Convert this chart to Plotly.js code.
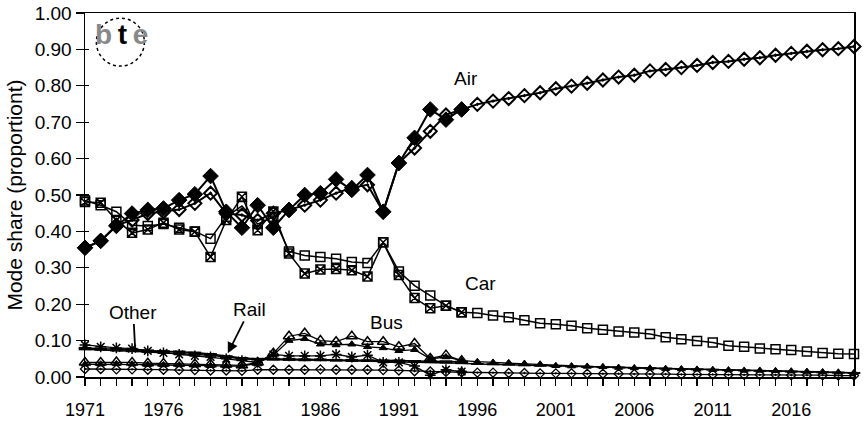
<!DOCTYPE html>
<html>
<head>
<meta charset="utf-8">
<script src="https://cdn.plot.ly/plotly-3.0.1.min.js"></script>
<style>
  body { margin: 0; background: #fff; }
  #chart { width: 864px; height: 421px; }
</style>
</head>
<body>
<div id="chart"></div>
<script>
// years: observed period and full projection period
var yearsActual = [1971, 1972, 1973, 1974, 1975, 1976, 1977, 1978, 1979, 1980,
    1981, 1982, 1983, 1984, 1985, 1986, 1987, 1988, 1989, 1990,
    1991, 1992, 1993, 1994, 1995];
var yearsFitted = [1971, 1972, 1973, 1974, 1975, 1976, 1977, 1978, 1979, 1980,
    1981, 1982, 1983, 1984, 1985, 1986, 1987, 1988, 1989, 1990,
    1991, 1992, 1993, 1994, 1995, 1996, 1997, 1998, 1999, 2000,
    2001, 2002, 2003, 2004, 2005, 2006, 2007, 2008, 2009, 2010,
    2011, 2012, 2013, 2014, 2015, 2016, 2017, 2018, 2019, 2020];

var airActual = [0.355, 0.374, 0.415, 0.449, 0.459, 0.463, 0.486, 0.502, 0.552, 0.454,
    0.410, 0.472, 0.410, 0.459, 0.500, 0.505, 0.543, 0.514, 0.555, 0.454,
    0.588, 0.657, 0.735, 0.707, 0.735];
var airFitted = [0.355, 0.374, 0.417, 0.431, 0.449, 0.454, 0.460, 0.477, 0.505, 0.449,
    0.445, 0.430, 0.450, 0.459, 0.472, 0.486, 0.505, 0.520, 0.528, 0.454,
    0.588, 0.629, 0.675, 0.720, 0.735, 0.749, 0.758, 0.765, 0.773, 0.781,
    0.792, 0.799, 0.807, 0.816, 0.824, 0.829, 0.841, 0.845, 0.850, 0.856,
    0.864, 0.867, 0.873, 0.877, 0.884, 0.889, 0.895, 0.899, 0.902, 0.908];

var carActual = [0.481, 0.479, 0.431, 0.396, 0.405, 0.424, 0.405, 0.399, 0.330, 0.431,
    0.495, 0.403, 0.455, 0.339, 0.284, 0.295, 0.297, 0.293, 0.276, 0.370,
    0.280, 0.217, 0.189, 0.196, 0.178];
var carFitted = [0.485, 0.472, 0.454, 0.417, 0.415, 0.420, 0.410, 0.400, 0.380, 0.440,
    0.470, 0.420, 0.440, 0.345, 0.334, 0.330, 0.325, 0.316, 0.313, 0.370,
    0.290, 0.251, 0.224, 0.196, 0.178, 0.176, 0.169, 0.164, 0.156, 0.148,
    0.145, 0.141, 0.134, 0.130, 0.125, 0.122, 0.118, 0.109, 0.104, 0.099,
    0.095, 0.086, 0.083, 0.078, 0.076, 0.074, 0.070, 0.066, 0.064, 0.063];

var busActual = [0.040, 0.040, 0.041, 0.040, 0.038, 0.037, 0.037, 0.036, 0.035, 0.034,
    0.032, 0.040, 0.065, 0.112, 0.120, 0.100, 0.097, 0.112, 0.097, 0.097,
    0.083, 0.092, 0.051, 0.060, 0.045];
var busFitted = [0.035, 0.035, 0.036, 0.035, 0.034, 0.033, 0.033, 0.032, 0.031, 0.030,
    0.030, 0.038, 0.060, 0.100, 0.105, 0.090, 0.088, 0.090, 0.083, 0.080,
    0.072, 0.075, 0.050, 0.055, 0.045, 0.042, 0.040, 0.039, 0.037, 0.035,
    0.031, 0.030, 0.029, 0.028, 0.026, 0.025, 0.024, 0.023, 0.022, 0.021,
    0.020, 0.019, 0.018, 0.018, 0.017, 0.016, 0.015, 0.014, 0.013, 0.012];

var railActual = [0.080, 0.078, 0.077, 0.075, 0.073, 0.071, 0.070, 0.067, 0.063, 0.057,
    0.052, 0.050, 0.050, 0.050, 0.048, 0.048, 0.047, 0.047, 0.046, 0.045,
    0.045, 0.044, 0.044, 0.043, 0.042];
var railFitted = [0.076, 0.075, 0.073, 0.071, 0.069, 0.067, 0.065, 0.063, 0.060, 0.055,
    0.050, 0.048, 0.048, 0.047, 0.046, 0.046, 0.045, 0.044, 0.044, 0.043,
    0.042, 0.042, 0.041, 0.040, 0.038, 0.036, 0.035, 0.034, 0.032, 0.031,
    0.030, 0.029, 0.028, 0.027, 0.026, 0.025, 0.024, 0.023, 0.022, 0.021,
    0.020, 0.019, 0.018, 0.017, 0.016, 0.015, 0.014, 0.013, 0.012, 0.011];

var otherActual = [0.088, 0.083, 0.080, 0.078, 0.072, 0.066, 0.062, 0.058, 0.055, 0.050,
    0.045, 0.040, 0.062, 0.058, 0.058, 0.058, 0.062, 0.055, 0.060, 0.040,
    0.040, 0.030, 0.005, 0.020, 0.015];
var otherFitted = [0.022, 0.022, 0.021, 0.021, 0.020, 0.020, 0.019, 0.019, 0.018, 0.018,
    0.017, 0.020, 0.020, 0.020, 0.020, 0.021, 0.020, 0.020, 0.020, 0.019,
    0.018, 0.016, 0.015, 0.014, 0.013, 0.012, 0.012, 0.011, 0.011, 0.010,
    0.010, 0.010, 0.009, 0.009, 0.009, 0.008, 0.008, 0.008, 0.007, 0.007,
    0.007, 0.006, 0.006, 0.006, 0.006, 0.005, 0.005, 0.005, 0.004, 0.004];

var fnt = 'Arial, "Liberation Sans", sans-serif';

function mk(x, y, symbol, size, width, mw) {
    return {
        x: x, y: y,
        type: 'scatter',
        mode: 'lines+markers',
        cliponaxis: false,
        showlegend: false,
        line: { color: '#000', width: width },
        marker: { symbol: symbol, size: size, color: '#000',
            line: { color: '#000', width: mw } }
    };
}

var data = [
    mk(yearsFitted, otherFitted, 'diamond-open-dot', 7, 1.3, 1.3),
    mk(yearsFitted, railFitted, 'line-ew-open', 9, 1.5, 2),
    mk(yearsActual, railActual, 'line-ew-open', 9, 1.5, 2),
    mk(yearsFitted, busFitted, 'triangle-up', 7, 1.3, 1),
    mk(yearsActual, busActual, 'triangle-up-open', 10, 1.3, 1.5),
    mk(yearsActual, otherActual, 'asterisk-open', 9, 1.3, 1.5),
    mk(yearsFitted, carFitted, 'square-open', 9, 1.5, 1.5),
    mk(yearsActual, carActual, 'square-x-open', 9, 1.5, 1.5),
    mk(yearsFitted, airFitted, 'diamond-open-dot', 10, 2, 2),
    mk(yearsActual, airActual, 'diamond', 12, 2, 1)
];

var layout = {
    width: 864,
    height: 421,
    margin: { l: 85, r: 10, t: 13, b: 44 },
    paper_bgcolor: '#fff',
    plot_bgcolor: '#fff',
    font: { family: fnt, color: '#000', size: 18 },
    showlegend: false,
    xaxis: {
        range: [1971, 2020],
        tick0: 1971,
        dtick: 5,
        ticks: 'outside',
        ticklen: 7,
        tickwidth: 1.2,
        tickcolor: '#000',
        ticklabelstandoff: 9,
        minor: { dtick: 1, ticks: 'outside', ticklen: 7, tickwidth: 1.2, tickcolor: '#000' },
        showgrid: false,
        zeroline: false,
        showline: true,
        linecolor: '#000',
        linewidth: 1.5,
        mirror: true,
        tickfont: { size: 18, family: fnt }
    },
    yaxis: {
        range: [0, 1],
        dtick: 0.1,
        tickformat: '.2f',
        ticks: 'outside',
        ticklen: 8,
        tickwidth: 1.2,
        tickcolor: '#000',
        showgrid: false,
        zeroline: false,
        showline: true,
        linecolor: '#000',
        linewidth: 1.5,
        mirror: true,
        tickfont: { size: 19, family: fnt },
        title: { text: 'Mode share (proportiont)', font: { size: 21, family: fnt }, standoff: 6 }
    },
    yaxis2: {
        range: [0, 1],
        dtick: 0.1,
        overlaying: 'y',
        side: 'left',
        ticks: 'inside',
        ticklen: 4,
        tickwidth: 1.2,
        tickcolor: '#000',
        showticklabels: false,
        showgrid: false,
        zeroline: false
    },
    annotations: [
        { x: 1995.3, y: 0.82, text: 'Air', showarrow: false, font: { size: 19 } },
        { x: 1996.2, y: 0.258, text: 'Car', showarrow: false, font: { size: 19 } },
        { x: 1990.2, y: 0.151, text: 'Bus', showarrow: false, font: { size: 19 } },
        { x: 1980.1, y: 0.065, ax: 22, ay: -44, text: 'Rail', showarrow: true,
          arrowhead: 2, arrowsize: 1.2, arrowwidth: 1.8, arrowcolor: '#000', font: { size: 19 } },
        { x: 1974.2, y: 0.074, ax: -2, ay: -38, text: 'Other', showarrow: true,
          arrowhead: 0, arrowwidth: 1.8, arrowcolor: '#000', font: { size: 19 } },
        { xref: 'paper', yref: 'paper', x: 0.048, y: 0.94, xanchor: 'center', yanchor: 'middle',
          showarrow: false,
          text: '<b><span style="color:#888">b</span>\u2009t\u2009<span style="color:#888">e</span></b>',
          font: { size: 28, family: fnt } }
    ],
    shapes: [
        { type: 'circle', xref: 'paper', yref: 'paper',
          xsizemode: 'pixel', ysizemode: 'pixel',
          xanchor: 0.046, yanchor: 0.92, x0: -24, x1: 24, y0: -24, y1: 24,
          line: { color: '#000', width: 1.5, dash: 'dot' } }
    ]
};

var config = { displayModeBar: false, staticPlot: true };

// overlay trace so the inner tick marks of yaxis2 are drawn
data.push({ x: [1971], y: [0], yaxis: 'y2', mode: 'markers', marker: { opacity: 0 },
    showlegend: false, hoverinfo: 'skip' });

Plotly.newPlot('chart', data, layout, config);
</script>
</body>
</html>
